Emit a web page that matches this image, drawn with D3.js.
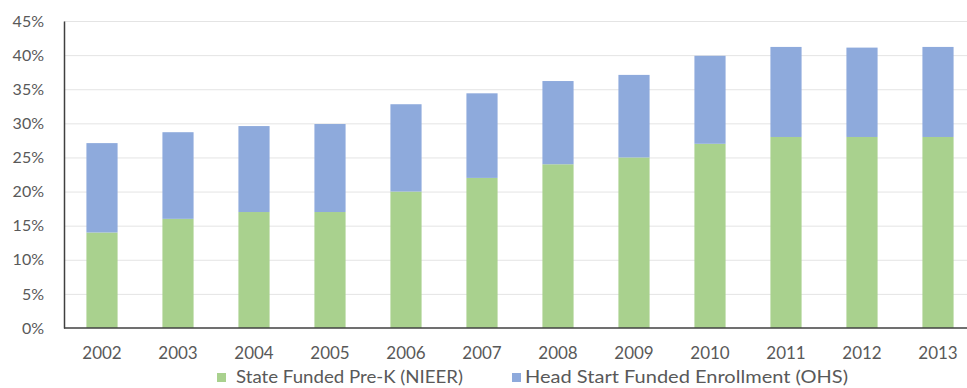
<!DOCTYPE html>
<html>
<head>
<meta charset="utf-8">
<script src="https://cdn.jsdelivr.net/npm/d3@7"></script>
<style>
  html, body { margin: 0; padding: 0; background: #ffffff; }
  svg { display: block; font-family: Lato, "Open Sans", sans-serif; }
</style>
</head>
<body>
<svg id="chart" width="967" height="388"></svg>
<script>
// Share of 4-year-olds enrolled, by funding source (percent)
const years = ["2002","2003","2004","2005","2006","2007","2008","2009","2010","2011","2012","2013"];
const stateFundedPreK = [14, 16, 17, 17, 20, 22, 24, 25, 27, 28, 28, 28];
const headStartEnrollment = [13.1, 12.7, 12.6, 12.9, 12.8, 12.4, 12.2, 12.1, 12.9, 13.2, 13.1, 13.2];
const yTicks = [0, 5, 10, 15, 20, 25, 30, 35, 40, 45];
const seriesNames = ["State Funded Pre-K (NIEER)", "Head Start Funded Enrollment (OHS)"];
const seriesColors = ["#a9d18e", "#8eaadc"];

const svg = d3.select("#chart");
const W = 967, H = 388;
const plot = { left: 64, right: 976, top: 21, bottom: 328 };
const textColor = "#595959";

const x = d3.scaleBand()
  .domain(years)
  .range([plot.left, plot.right])
  .paddingInner(0.59)
  .paddingOuter(0.295);

const y = d3.scaleLinear()
  .domain([0, 45])
  .range([plot.bottom, plot.top]);

// Horizontal gridlines
svg.append("g")
  .selectAll("line")
  .data(yTicks.filter(t => t > 0))
  .join("line")
  .attr("x1", plot.left)
  .attr("x2", W)
  .attr("y1", d => y(d) + 0.5)
  .attr("y2", d => y(d) + 0.5)
  .attr("stroke", "#e4e4e4")
  .attr("stroke-width", 1);

// Stacked series
const rows = years.map((yr, i) => ({ year: yr, state: stateFundedPreK[i], head: headStartEnrollment[i] }));
const stack = d3.stack().keys(["state", "head"])(rows);

svg.append("g")
  .selectAll("g")
  .data(stack)
  .join("g")
  .attr("fill", (d, i) => seriesColors[i])
  .selectAll("rect")
  .data(d => d)
  .join("rect")
  .attr("x", d => x(d.data.year))
  .attr("width", x.bandwidth())
  .attr("y", d => y(d[1]))
  .attr("height", d => y(d[0]) - y(d[1]));

// Y axis
const yAxis = svg.append("g")
  .attr("transform", `translate(${plot.left},0)`)
  .call(d3.axisLeft(y).tickValues(yTicks).tickFormat(d => d + "%").tickSize(0).tickPadding(20));
yAxis.select(".domain").attr("stroke", "#404040").attr("stroke-width", 1.5);
yAxis.selectAll("text")
  .attr("fill", textColor)
  .attr("font-size", 16)
  .attr("font-family", "Lato, sans-serif");

// X axis
const xAxis = svg.append("g")
  .attr("transform", `translate(0,${plot.bottom})`)
  .call(d3.axisBottom(x).tickSize(0).tickPadding(19));
xAxis.select(".domain").attr("stroke", "#404040").attr("stroke-width", 1.5)
  .attr("d", `M${plot.left},0H${W}`);
xAxis.selectAll("text")
  .attr("fill", textColor)
  .attr("font-size", 17)
  .attr("font-family", "Lato, sans-serif");

// Legend
const legendItems = [
  { name: seriesNames[0], color: seriesColors[0], sx: 217, tx: 236, tw: 227 },
  { name: seriesNames[1], color: seriesColors[1], sx: 512, tx: 525, tw: 323 }
];
const legend = svg.append("g");
legendItems.forEach(item => {
  legend.append("rect")
    .attr("x", item.sx).attr("y", 373)
    .attr("width", 9).attr("height", 9)
    .attr("fill", item.color);
  legend.append("text")
    .attr("x", item.tx).attr("y", 383)
    .attr("fill", textColor)
    .attr("font-size", 17)
    .attr("textLength", item.tw)
    .attr("lengthAdjust", "spacingAndGlyphs")
    .text(item.name);
});
</script>
</body>
</html>
